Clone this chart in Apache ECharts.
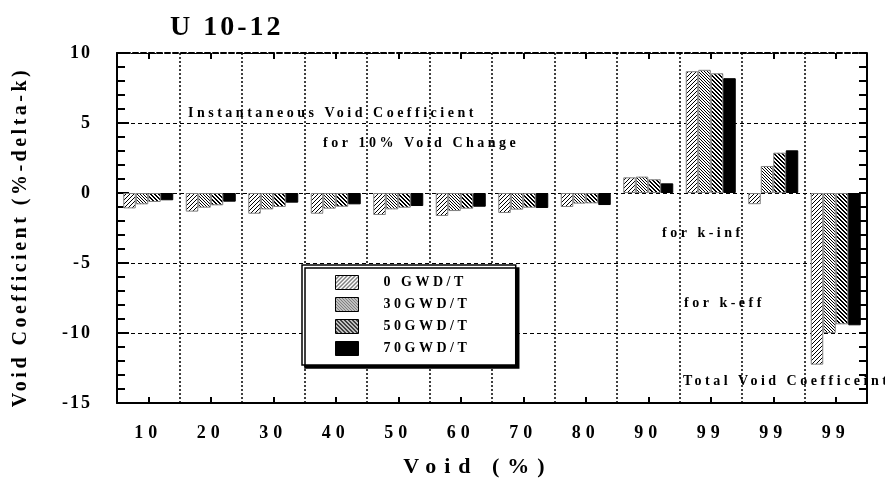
<!DOCTYPE html>
<html><head><meta charset="utf-8">
<script src="https://cdn.jsdelivr.net/npm/echarts@6/dist/echarts.min.js"></script>
<style>html,body{margin:0;padding:0;background:#fff}#c{width:885px;height:483px}</style>
</head><body><div id="c"></div>
<script>
// ---------------- data ----------------
const categories = ['10','20','30','40','50','60','70','80','90','99','99','99'];
const seriesNames = ['0 GWD/T','30GWD/T','50GWD/T','70GWD/T'];
const gwd0  = [-1.10,-1.33,-1.48,-1.48,-1.57,-1.64,-1.43,-1.00,1.12,8.70,-0.80,-12.26];
const gwd30 = [-0.81,-1.05,-1.17,-1.12,-1.17,-1.29,-1.19,-0.76,1.17,8.80,1.93,-10.00];
const gwd50 = [-0.64,-0.88,-1.00,-0.98,-1.05,-1.12,-1.05,-0.74,0.98,8.55,2.88,-9.38];
const gwd70 = [-0.52,-0.62,-0.69,-0.81,-0.93,-0.98,-1.07,-0.86,0.69,8.20,3.05,-9.45];
const yMin = -15, yMax = 10, yStep = 5;
const titleText = 'U 10-12';
const xName = 'Void (%)';
const yName = 'Void Coefficient (%-delta-k)';
const annotations = ['Instantaneous Void Coefficient','for 10% Void Change','for k-inf','for k-eff','Total Void Coefficeint'];

// ---------------- letter spacing helper (canvas letterSpacing keyed by a marker family) ----------------
(function(){
  const P = CanvasRenderingContext2D.prototype;
  const of = P.fillText, os = P.strokeText;
  function sp(ctx){ const m = /\bsp(\d+)(?:_(\d+))?\b/.exec(ctx.font || ''); return m ? (m[1] + (m[2] ? '.' + m[2] : '')) + 'px' : '0px'; }
  P.fillText = function(t,x,y,w){ const prev = this.letterSpacing; this.letterSpacing = sp(this);
    const r = (w === undefined) ? of.call(this,t,x,y) : of.call(this,t,x,y,w); this.letterSpacing = prev || '0px'; return r; };
  P.strokeText = function(t,x,y,w){ const prev = this.letterSpacing; this.letterSpacing = sp(this);
    const r = (w === undefined) ? os.call(this,t,x,y) : os.call(this,t,x,y,w); this.letterSpacing = prev || '0px'; return r; };
})();
const SERIF = '"Liberation Serif", "Times New Roman", serif';
function fam(s){ return 'sp' + s + ', ' + SERIF; }

// ---------------- hatch patterns ----------------
function makePattern(dir, period, thick){
  const c = document.createElement('canvas'); c.width = period; c.height = period;
  const g = c.getContext('2d'); g.fillStyle = '#fff'; g.fillRect(0,0,period,period);
  g.fillStyle = '#000';
  for (let i = 0; i < period; i++){
    for (let k = 0; k < thick; k++){
      const x = (i + k) % period;
      const y = dir === '/' ? (period - 1 - i) : i;
      g.fillRect(x, y, 1, 1);
    }
  }
  return c;
}
const fills = [
  {image: makePattern('/', 4, 1), repeat: 'repeat'},
  {image: makePattern('\\', 3, 1), repeat: 'repeat'},
  {image: makePattern('\\', 4, 2), repeat: 'repeat'},
  '#000'
];
const seriesData = [gwd0, gwd30, gwd50, gwd70];

const annPos = [[188,113],[323,143],[662,233],[684,303],[683,381]];

const chart = echarts.init(document.getElementById('c'), null, {renderer:'canvas'});
const axisFontY = {fontFamily: fam('2'), fontSize: 18, fontWeight: 'bold', color: '#000'};
chart.setOption({
  animation: false,
  backgroundColor: '#fff',
  title: {text: titleText, left: 170, top: 14, padding: 0,
    textStyle: {fontFamily: fam('3'), fontSize: 28, fontWeight: 'bold', color: '#000'}},
  grid: {left: 117, right: 18, top: 53, bottom: 80, outerBoundsMode: 'none'},
  legend: {
    orient: 'vertical', left: 302, top: 265, padding: [10, 70, 9, 33],
    itemWidth: 23, itemHeight: 14, itemGap: 7, icon: 'rect',
    backgroundColor: '#fff', borderColor: '#000', borderWidth: 1.5,
    shadowColor: '#000', shadowOffsetX: 3, shadowOffsetY: 3, shadowBlur: 0,
    itemStyle: {borderColor: '#000', borderWidth: 1},
    textStyle: {fontFamily: fam('3_5'), fontSize: 14, fontWeight: 'bold', color: '#000', padding: [0,0,0,20]},
    data: seriesNames
  },
  xAxis: [
    {type: 'category', data: categories, position: 'bottom',
      axisLine: {onZero: false, lineStyle: {color: '#000', width: 2}},
      axisTick: {show: true, alignWithLabel: true, inside: true, length: 6, interval: 0, lineStyle: {color: '#000', width: 2}},
      axisLabel: {interval: 0, margin: 21, fontFamily: fam('5'), fontSize: 18, fontWeight: 'bold', color: '#000'},
      splitLine: {show: true, interval: 0, lineStyle: {color: '#000', type: [2,2], width: 1.5}},
      name: xName, nameLocation: 'middle', nameGap: 53,
      nameTextStyle: {fontFamily: fam('8'), fontSize: 22, fontWeight: 'bold', color: '#000', padding: [0,28,0,0]}
    },
    {type: 'category', data: categories, position: 'top',
      axisLine: {onZero: false, lineStyle: {color: '#000', width: 2, type: [5,3]}},
      axisTick: {show: true, alignWithLabel: true, inside: true, length: 6, interval: 0, lineStyle: {color: '#000', width: 2}},
      axisLabel: {show: false}, splitLine: {show: false}
    }
  ],
  yAxis: [
    {type: 'value', min: yMin, max: yMax, interval: yStep, position: 'left',
      axisLine: {show: true, onZero: false, lineStyle: {color: '#000', width: 2}},
      axisTick: {show: true, inside: true, length: 12, lineStyle: {color: '#000', width: 2}},
      minorTick: {show: true, splitNumber: 5, length: 8, lineStyle: {color: '#000', width: 2}},
      axisLabel: Object.assign({margin: 25}, axisFontY),
      splitLine: {show: true, lineStyle: {color: '#000', type: [4,3], width: 1}},
      name: yName, nameLocation: 'middle', nameGap: 86, nameRotate: 90,
      nameTextStyle: {fontFamily: fam('3_5'), fontSize: 20, fontWeight: 'bold', color: '#000', padding: [0,18,0,0]}
    },
    {type: 'value', min: yMin, max: yMax, interval: yStep, position: 'right',
      axisLine: {show: true, onZero: false, lineStyle: {color: '#000', width: 2}},
      axisTick: {show: true, inside: true, length: 8, lineStyle: {color: '#000', width: 2}},
      minorTick: {show: true, splitNumber: 5, length: 8, lineStyle: {color: '#000', width: 2}},
      axisLabel: {show: false}, splitLine: {show: false}
    }
  ],
  series: seriesData.map((d, i) => ({
    name: seriesNames[i], type: 'bar', data: d, barWidth: 12.5, barGap: '0%',
    xAxisIndex: 0, yAxisIndex: 0,
    itemStyle: {color: fills[i], borderColor: i === 3 ? '#000' : '#808080', borderWidth: 1}
  })),
  graphic: annotations.map((t, i) => ({
    type: 'text', x: annPos[i][0], y: annPos[i][1], z: 100,
    style: {text: t, fontFamily: fam('3_5'), fontSize: 14, fontWeight: 'bold', fill: '#000', verticalAlign: 'middle', textVerticalAlign: 'middle'}
  }))
});
</script></body></html>
